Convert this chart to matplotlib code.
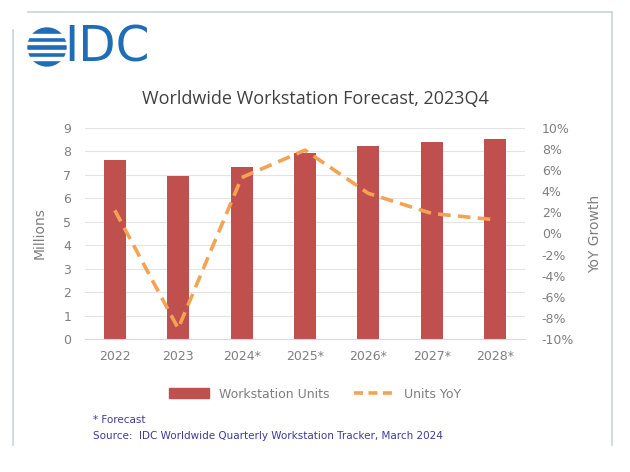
import matplotlib
matplotlib.use("Agg")
import matplotlib.pyplot as plt
from matplotlib.patches import Circle, Rectangle
from matplotlib.lines import Line2D
import numpy as np

categories = ["2022", "2023", "2024*", "2025*", "2026*", "2027*", "2028*"]
units = [7.65, 6.97, 7.33, 7.92, 8.22, 8.40, 8.52]
yoy = [2.2, -9.0, 5.3, 7.9, 3.8, 1.9, 1.3]
left_ticks = list(range(0, 10))
right_ticks = list(range(-10, 12, 2))

bar_color = "#C0504D"
line_color = "#F4A352"
tick_color = "#7F7F7F"

fig = plt.figure(figsize=(6.3, 4.72), dpi=100)
fig.patch.set_facecolor("white")

# frame lines
fig.add_artist(Line2D([28/630, 612/630], [1-12/472, 1-12/472], color="#C9D3DD", lw=1.2))
fig.add_artist(Line2D([612/630, 612/630], [1-12/472, 1-445/472], color="#C9D3DD", lw=1.2))
fig.add_artist(Line2D([13/630, 13/630], [1-30/472, 1-445/472], color="#C9D3DD", lw=1.2))

# logo
lax = fig.add_axes([0, 0, 1, 1], zorder=-1)
lax.set_xlim(0, 630); lax.set_ylim(472, 0); lax.axis("off")
blue = "#1F6DB6"
cx, cy, r = 47, 47, 19
circ = Circle((cx, cy), r, color=blue)
lax.add_patch(circ)
for yy in np.linspace(cy - r, cy + r, 6)[1:-1]:
    lax.add_patch(Rectangle((cx - r - 2, yy - 1.3), 2 * r + 4, 2.6, color="white"))
lax.text(64, 47, "IDC", fontsize=35, color=blue, va="center", ha="left",
         family="Liberation Sans Narrow")

fig.text(315/630, 1-99/472, "Worldwide Workstation Forecast, 2023Q4",
         ha="center", va="center", fontsize=13, color="#404040", family="Open Sans")

ax = fig.add_axes([85/630, 1-339/472, 440/630, 211/472])
x = np.arange(len(categories))
ax.bar(x, units, width=0.35, color=bar_color, zorder=2)
ax.set_ylim(0, 9)
ax.set_yticks(left_ticks)
ax.set_xlim(-0.47, 6.47)
ax.set_xticks(x)
ax.set_xticklabels(categories)
ax.yaxis.grid(True, color="#E3E3E3", lw=0.8, zorder=0)
ax.set_axisbelow(True)
for s in ax.spines.values():
    s.set_visible(False)
ax.spines["bottom"].set_visible(True)
ax.spines["bottom"].set_color("#D9D9D9")
ax.tick_params(length=0, colors=tick_color, labelsize=9, pad=10)
ax.tick_params(axis="x", pad=8)
ax.set_ylabel("Millions", color=tick_color, fontsize=10, labelpad=12)

ax2 = ax.twinx()
ax2.plot(x, yoy, color=line_color, lw=2.6, dashes=(3.5, 2), zorder=3)
ax2.set_ylim(-10, 10)
ax2.set_yticks(right_ticks)
ax2.set_yticklabels([f"{t}%" for t in right_ticks])
for s in ax2.spines.values():
    s.set_visible(False)
ax2.tick_params(length=0, colors=tick_color, labelsize=9, pad=12)
ax2.set_ylabel("YoY Growth", color=tick_color, fontsize=10, labelpad=10)

handles = [Rectangle((0, 0), 1, 1, color=bar_color),
           Line2D([0], [0], color=line_color, lw=2.6, dashes=(2.5, 1.5))]
fig.legend(handles, ["Workstation Units", "Units YoY"], loc="center",
           bbox_to_anchor=(315/630, 1-394/472), ncol=2, frameon=False,
           fontsize=9, labelcolor=tick_color, handlelength=3.2, columnspacing=2.0,
           handleheight=0.8)

fig.text(93/630, 1-420/472, "* Forecast", fontsize=7.5, color="#3B3C9C", va="center")
fig.text(93/630, 1-436/472, "Source:  IDC Worldwide Quarterly Workstation Tracker, March 2024",
         fontsize=7.5, color="#3B3C9C", va="center")

fig.savefig("out.png", dpi=100, facecolor="white")
